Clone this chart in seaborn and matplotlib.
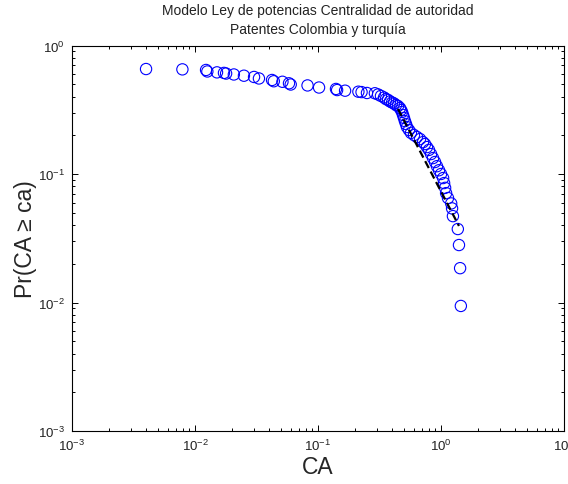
import matplotlib
matplotlib.use("Agg")
import matplotlib.pyplot as plt
import seaborn as sns
import pandas as pd
import numpy as np
from matplotlib.ticker import LogLocator, LogFormatterSciNotation, NullFormatter

# ---- data ----
ca = [0.0040, 0.0079, 0.0123, 0.0126, 0.0151, 0.0172, 0.0179, 0.0207, 0.0250, 0.0302,
      0.0331, 0.0423, 0.0437, 0.0514, 0.0581, 0.0600, 0.0822, 0.102, 0.140, 0.143,
      0.166, 0.213, 0.226, 0.250, 0.290, 0.308, 0.325, 0.344, 0.357, 0.371,
      0.385, 0.400, 0.415, 0.431, 0.447, 0.464, 0.473, 0.482, 0.491, 0.500,
      0.509, 0.519, 0.529, 0.549, 0.570, 0.603, 0.638, 0.675, 0.714, 0.741,
      0.769, 0.798, 0.830, 0.861, 0.894, 0.927, 0.963, 1.00, 1.04, 1.06,
      1.08, 1.10, 1.14, 1.21, 1.23, 1.25, 1.37, 1.40, 1.43, 1.45]
pr = [0.656, 0.652, 0.645, 0.628, 0.618, 0.612, 0.605, 0.595, 0.582, 0.569,
      0.554, 0.539, 0.527, 0.522, 0.508, 0.497, 0.489, 0.471, 0.459, 0.450,
      0.445, 0.437, 0.434, 0.427, 0.425, 0.416, 0.405, 0.394, 0.383, 0.377,
      0.367, 0.360, 0.354, 0.344, 0.338, 0.326, 0.315, 0.304, 0.288, 0.273,
      0.258, 0.245, 0.232, 0.220, 0.209, 0.201, 0.194, 0.187, 0.177, 0.171,
      0.162, 0.154, 0.143, 0.133, 0.124, 0.115, 0.107, 0.100, 0.093, 0.085,
      0.078, 0.071, 0.065, 0.059, 0.054, 0.047, 0.0373, 0.0280, 0.0185, 0.0094]
fit_ca = [0.447, 1.40]
fit_pr = [0.321, 0.0394]

title_lines = ["Modelo Ley de potencias Centralidad de autoridad", "Patentes Colombia y turquía"]
x_label = "CA"
y_label = "Pr(CA \u2265 ca)"

sns.set_style("ticks")
plt.rcParams['font.family'] = ['Liberation Sans', 'DejaVu Sans']
plt.rcParams['mathtext.default'] = 'regular'

df = pd.DataFrame({"CA": ca, "Pr": pr})
df_fit = pd.DataFrame({"CA": fit_ca, "Pr": fit_pr})

fig = plt.figure(figsize=(5.68, 4.85), dpi=100)
fig.patch.set_facecolor("white")
ax = fig.add_axes([72/568, (485-432)/485, 492/568, 385.5/485])

sns.scatterplot(data=df, x="CA", y="Pr", ax=ax, marker="o", s=66,
                facecolor="none", edgecolor="#0000ff", linewidth=0.8, zorder=2)
sns.lineplot(data=df_fit, x="CA", y="Pr", ax=ax, color="black", linewidth=1.6,
             linestyle="--", dashes=False, zorder=3)
for ln in ax.get_lines():
    ln.set_dashes((3.5, 1.8))

ax.set_xscale("log")
ax.set_yscale("log")
ax.set_xlim(1e-3, 1e1)
ax.set_ylim(1e-3, 1e0)
ax.xaxis.set_major_locator(LogLocator(base=10, numticks=10))
ax.yaxis.set_major_locator(LogLocator(base=10, numticks=10))
ax.xaxis.set_minor_locator(LogLocator(base=10, subs=np.arange(2, 10), numticks=20))
ax.yaxis.set_minor_locator(LogLocator(base=10, subs=np.arange(2, 10), numticks=20))
ax.xaxis.set_major_formatter(LogFormatterSciNotation())
ax.yaxis.set_major_formatter(LogFormatterSciNotation())
ax.xaxis.set_minor_formatter(NullFormatter())
ax.yaxis.set_minor_formatter(NullFormatter())

for s in ax.spines.values():
    s.set_visible(True)
    s.set_linewidth(0.8)
    s.set_color("black")
ax.tick_params(which="both", direction="in", top=True, right=True, colors="black",
               width=0.7, labelsize=9.5, labelcolor="#222222")
ax.tick_params(which="major", length=4.5, pad=5)
ax.tick_params(which="minor", length=2.5)

ax.set_xlabel(x_label, fontsize=16.5, labelpad=1)
ax.set_ylabel(y_label, fontsize=16.5, labelpad=1)
ax.set_title("\n".join(title_lines), fontsize=10, linespacing=1.45, pad=9, color="#222222")

fig.savefig("out.png", dpi=100, facecolor="white")
